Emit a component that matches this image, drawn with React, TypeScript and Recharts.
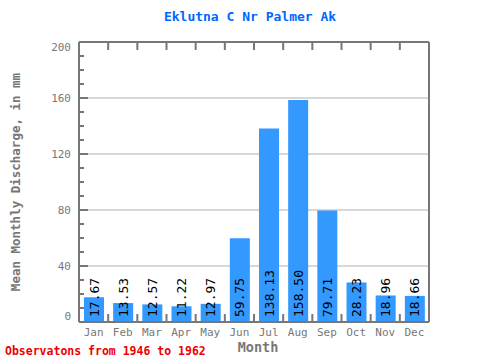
import React from "react";
import { BarChart, Bar, XAxis, YAxis, CartesianGrid } from "recharts";

const months = ["Jan", "Feb", "Mar", "Apr", "May", "Jun", "Jul", "Aug", "Sep", "Oct", "Nov", "Dec"];
const discharge = [17.67, 13.53, 12.57, 11.22, 12.97, 59.75, 138.13, 158.5, 79.71, 28.23, 18.96, 18.66];
const yTicks = [0, 40, 80, 120, 160, 200];
const gridValues = [40, 80, 120, 160];
const minorTicks = [0, 10, 20, 30, 40, 50, 60, 70, 80, 90, 100, 110, 120, 130, 140, 150, 160, 170, 180, 190, 200];

const data = months.map((m, i) => ({ month: m, value: discharge[i] }));

const FONT = "'DejaVu Sans Mono', monospace";
const AXIS = "#777777";

const renderValueLabel = (props: any) => {
  const vb = props.viewBox || {};
  const x = Number(props.x ?? vb.x);
  const y = Number(props.y ?? vb.y);
  const width = Number(props.width ?? vb.width);
  const height = Number(props.height ?? vb.height);
  const cx = x + width / 2;
  const by = y + height - 5;
  return (
    <g key={`lbl-${props.index}`} transform={`translate(${cx}, ${by}) rotate(-90)`}>
      <text
        x={0}
        y={0}
        textAnchor="start"
        dominantBaseline="central"
        fontFamily={FONT}
        fontSize={13}
        fill="#000"
      >
        {Number(props.value).toFixed(2)}
      </text>
    </g>
  );
};

const LeftTick = (props: any) => {
  const { x, y, payload } = props;
  const v = payload.value;
  const major = yTicks.includes(v);
  let dy = 0;
  if (v === 200) dy = 5;
  if (v === 0) dy = -6;
  return (
    <g>
      <line x1={x} x2={x + (major ? 9 : 5)} y1={y} y2={y} stroke={AXIS} strokeWidth={2} />
      {major && (
        <text
          x={x - 8}
          y={y + dy}
          textAnchor="end"
          dominantBaseline="central"
          fill={AXIS}
          fontFamily={FONT}
          fontSize={11}
        >
          {v}
        </text>
      )}
    </g>
  );
};

const RightTick = (props: any) => {
  const { x, y, payload } = props;
  const major = yTicks.includes(payload.value);
  return <line x1={x - (major ? 9 : 5)} x2={x} y1={y} y2={y} stroke={AXIS} strokeWidth={2} />;
};

const TopTick = (props: any) => {
  const { x, y, payload, index } = props;
  const off = Number(payload.offset ?? 0);
  if (!(index > 0)) return <g />;
  return <line x1={x - off} x2={x - off} y1={y} y2={y + 8} stroke={AXIS} strokeWidth={2} />;
};

const BottomTick = (props: any) => {
  const { x, y, payload, index } = props;
  const off = Number(payload.offset ?? 0);
  return (
    <g>
      {index > 0 && <line x1={x - off} x2={x - off} y1={y} y2={y - 8} stroke={AXIS} strokeWidth={2} />}
      <text
        x={x}
        y={y + 10}
        textAnchor="middle"
        dominantBaseline="central"
        fill={AXIS}
        fontFamily={FONT}
        fontSize={11}
      >
        {payload.value}
      </text>
    </g>
  );
};

const MonthLabel = (props: any) => {
  const vb = props.viewBox || {};
  const cx = Number(vb.x) + Number(vb.width) / 2 + 4;
  const y = Number(vb.y) + Number(vb.height) - 13;
  return (
    <text
      x={cx}
      y={y}
      textAnchor="middle"
      dominantBaseline="central"
      fill={AXIS}
      fontFamily={FONT}
      fontSize={13.5}
      fontWeight="bold"
    >
      Month
    </text>
  );
};

export default function App() {
  return (
    <div style={{ position: "absolute", left: 0, top: 0, width: 480, height: 360, background: "#fff" }}>
      <div
        style={{
          position: "absolute",
          left: 0,
          top: 9,
          width: 500,
          textAlign: "center",
          color: "#0066ff",
          fontFamily: FONT,
          fontWeight: "bold",
          fontSize: 13,
        }}
      >
        Eklutna C Nr Palmer Ak
      </div>
      <BarChart
        width={480}
        height={360}
        data={data}
        margin={{ top: 41, right: 50, bottom: 0, left: 0 }}
        barSize={20}
      >
        <CartesianGrid
          horizontal
          vertical={false}
          horizontalValues={gridValues}
          stroke="#b0b0b0"
          strokeWidth={1}
          yAxisId="y"
          xAxisId="cat"
        />
        <XAxis
          xAxisId="top"
          dataKey="month"
          orientation="top"
          height={1}
          tickLine={false}
          tickSize={0}
          tickMargin={0}
          tick={<TopTick />}
          axisLine={{ stroke: AXIS, strokeWidth: 2 }}
          interval={0}
        />
        <XAxis
          xAxisId="cat"
          dataKey="month"
          orientation="bottom"
          height={38}
          tickLine={false}
          tickSize={0}
          tickMargin={0}
          tick={<BottomTick />}
          axisLine={{ stroke: AXIS, strokeWidth: 2 }}
          interval={0}
          label={<MonthLabel />}
        />
        <YAxis
          yAxisId="y"
          domain={[0, 200]}
          ticks={minorTicks}
          interval={0}
          width={79}
          tickLine={false}
          tickSize={0}
          tickMargin={0}
          axisLine={{ stroke: AXIS, strokeWidth: 2 }}
          tick={<LeftTick />}
          label={{
            value: "Mean Monthly Discharge, in mm",
            angle: -90,
            position: "insideLeft",
            offset: 16,
            style: { textAnchor: "middle" },
            fill: AXIS,
            fontFamily: FONT,
            fontSize: 12.5,
            fontWeight: "bold",
          }}
        />
        <YAxis
          yAxisId="r"
          orientation="right"
          domain={[0, 200]}
          ticks={minorTicks}
          interval={0}
          width={1}
          tickLine={false}
          tickSize={0}
          tickMargin={0}
          axisLine={{ stroke: AXIS, strokeWidth: 2 }}
          tick={<RightTick />}
        />
        <Bar
          dataKey="value"
          xAxisId="top"
          yAxisId="y"
          fill="transparent"
          stroke="none"
          isAnimationActive={false}
        />
        <Bar
          dataKey="value"
          xAxisId="cat"
          yAxisId="y"
          fill="#3399ff"
          isAnimationActive={false}
          label={renderValueLabel}
        />
      </BarChart>
      <div
        style={{
          position: "absolute",
          left: 5,
          top: 344,
          color: "#ee0000",
          fontFamily: FONT,
          fontWeight: "bold",
          fontSize: 11.5,
          whiteSpace: "nowrap",
        }}
      >
        Observatons from 1946 to 1962
      </div>
    </div>
  );
}
